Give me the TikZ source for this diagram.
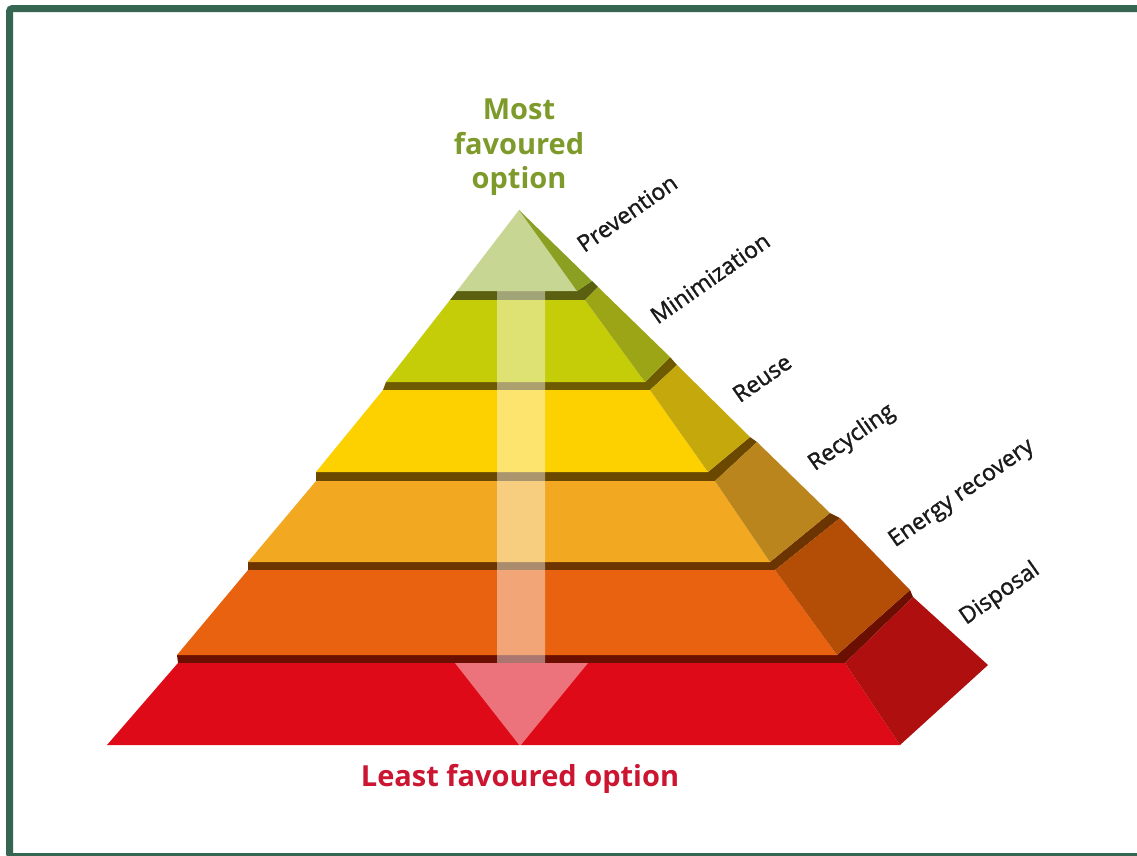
\documentclass[tikz,border=0pt]{standalone}
\usepackage{fontspec}
\setmainfont{Open Sans}
\newfontfamily\lblfont{Open Sans}[FakeBold=1.3]
\definecolor{framecol}{RGB}{54,102,82}
\definecolor{mostcol}{RGB}{125,154,42}
\definecolor{leastcol}{RGB}{204,21,49}
\definecolor{lblcol}{RGB}{26,26,26}
% fronts
\definecolor{fPrev}{RGB}{199,214,146}
\definecolor{fMin}{RGB}{197,204,8}
\definecolor{fReu}{RGB}{253,208,0}
\definecolor{fRec}{RGB}{242,168,32}
\definecolor{fEne}{RGB}{233,98,15}
\definecolor{fDis}{RGB}{222,10,23}
% sides
\definecolor{sPrev}{RGB}{139,159,34}
\definecolor{sMin}{RGB}{156,165,22}
\definecolor{sReu}{RGB}{197,168,12}
\definecolor{sRec}{RGB}{185,133,28}
\definecolor{sEne}{RGB}{180,78,6}
\definecolor{sDis}{RGB}{176,15,16}
% top strips
\definecolor{tMin}{RGB}{90,96,16}
\definecolor{tReu}{RGB}{110,90,0}
\definecolor{tRec}{RGB}{107,72,0}
\definecolor{tEne}{RGB}{107,52,0}
\definecolor{tDis}{RGB}{106,15,2}
\tikzset{
  framestyle/.style={draw=framecol, line width=7pt, rounded corners=3pt},
  lbl/.style={font=\lblfont\fontsize{23}{26}\selectfont, text=lblcol, inner sep=0pt, rotate=35},
  mosttxt/.style={font=\bfseries\fontsize{29}{35}\selectfont, text=mostcol, inner sep=0pt, anchor=base},
  leasttxt/.style={font=\bfseries\fontsize{29}{35}\selectfont, text=leastcol, inner sep=0pt, anchor=base},
  arrowband/.style={fill=white, opacity=0.43}
}
\begin{document}
\begin{tikzpicture}[x=1pt,y=-1pt]
\useasboundingbox (0,0) rectangle (1137,855);
\clip (0,0) rectangle (1137,855);
\fill[white] (0,0) rectangle (1137,855);
\draw[framestyle] (9.5,8.5) rectangle (1150,856.5);

% top strips (visible top faces)
\fill[tMin] (450,300) -- (585,300) -- (598,287) -- (592,281) -- (577,291) -- (457,291) -- cycle;
\fill[tReu] (383,390) -- (650,390) -- (677,365) -- (670,357) -- (645,382) -- (386,382) -- cycle;
\fill[tRec] (316,481) -- (715,481) -- (757,442) -- (750,437) -- (708,472) -- (316,472) -- cycle;
\fill[tEne] (248,570) -- (775,570) -- (840,518) -- (830,513) -- (770,562) -- (248,562) -- cycle;
\fill[tDis] (178,663) -- (845,663) -- (913,597) -- (910,590) -- (837,655) -- (177,655) -- cycle;

% Prevention
\fill[fPrev] (519,210) -- (577,291) -- (457,291) -- cycle;
\fill[sPrev] (519,210) -- (592,281) -- (577,291) -- cycle;
% Minimization
\fill[fMin] (450,300) -- (585,300) -- (645,382) -- (386,382) -- cycle;
\fill[sMin] (585,300) -- (598,287) -- (670,357) -- (645,382) -- cycle;
% Reuse
\fill[fReu] (383,390) -- (650,390) -- (708,472) -- (316,472) -- cycle;
\fill[sReu] (650,390) -- (677,365) -- (750,437) -- (708,472) -- cycle;
% Recycling
\fill[fRec] (316,481) -- (715,481) -- (770,562) -- (248,562) -- cycle;
\fill[sRec] (715,481) -- (757,442) -- (830,513) -- (770,562) -- cycle;
% Energy recovery
\fill[fEne] (248,570) -- (775,570) -- (837,655) -- (177,655) -- cycle;
\fill[sEne] (775,570) -- (840,518) -- (910,590) -- (837,655) -- cycle;
% Disposal
\fill[fDis] (178,663) -- (845,663) -- (900,745) -- (107,745) -- cycle;
\fill[sDis] (845,663) -- (913,597) -- (988,665) -- (900,745) -- cycle;

% central arrow
\fill[arrowband] (497,291) -- (545,291) -- (545,663) -- (588,663) -- (520,746) -- (455,663) -- (497,663) -- cycle;

% titles
\node[mosttxt] (mostA) at (519,119) {Most};
\node[mosttxt] (mostB) at (519,154) {favoured};
\node[mosttxt] (mostC) at (519,188) {option};
\node[leasttxt] (least) at (520,786) {Least favoured option};

% layer labels
\node[lbl] (lprev) at (627,213) {Prevention};
\node[lbl] (lmin) at (710,278) {Minimization};
\node[lbl] (lreu) at (762,378) {Reuse};
\node[lbl] (lrec) at (852,438) {Recycling};
\node[lbl] (lene) at (962,494) {Energy recovery};
\node[lbl] (ldis) at (1000,594) {Disposal};
\end{tikzpicture}
\end{document}
